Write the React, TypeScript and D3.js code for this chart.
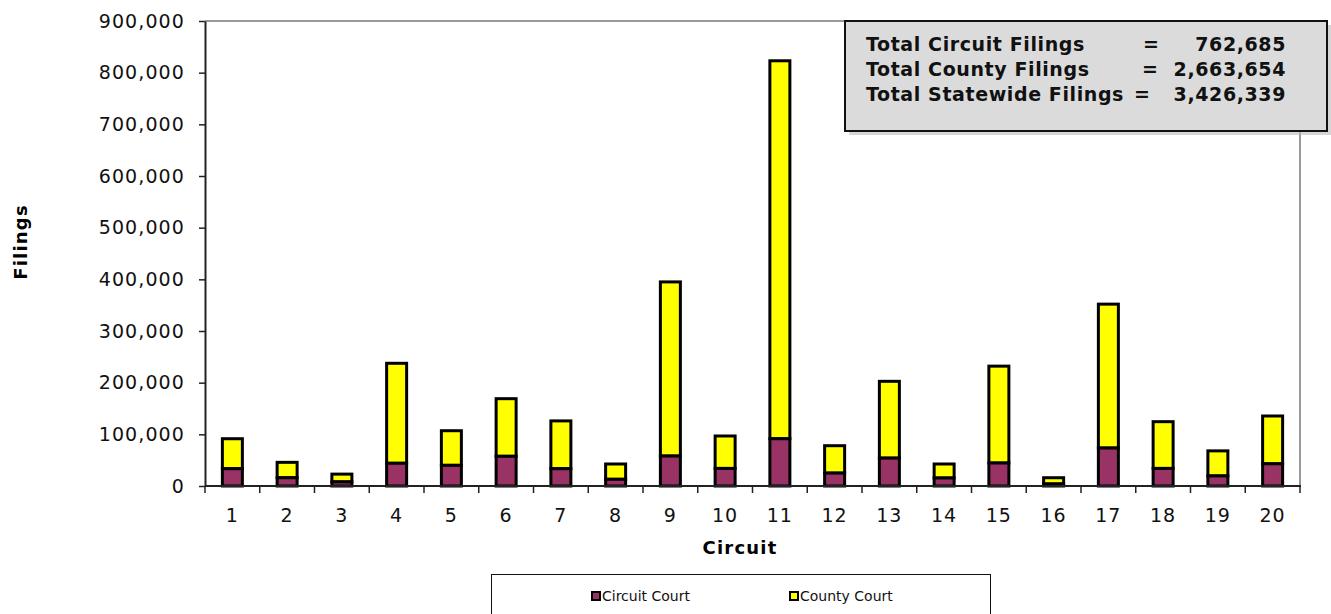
import { useEffect, useRef } from "react";
import * as d3 from "d3";

const CIRCUITS = ["1", "2", "3", "4", "5", "6", "7", "8", "9", "10", "11", "12", "13", "14", "15", "16", "17", "18", "19", "20"];

const CIRCUIT_COURT = [33500, 16000, 8000, 44000, 40000, 57500, 33500, 13000, 58000, 34000, 91500, 25000, 54000, 15500, 44500, 4000, 73500, 34000, 19500, 43000];

const COUNTY_COURT = [58000, 29800, 15000, 193500, 67000, 111500, 92500, 29600, 337000, 62800, 731500, 53000, 148600, 27100, 187500, 12000, 278500, 90500, 48500, 92500];

const Y_TICKS = [0, 100000, 200000, 300000, 400000, 500000, 600000, 700000, 800000, 900000];

const TOTAL_LINES = [
  { label: "Total Circuit Filings", eqX: 1143, value: "762,685" },
  { label: "Total County Filings", eqX: 1142, value: "2,663,654" },
  { label: "Total Statewide Filings", eqX: 1134, value: "3,426,339" },
];

const SERIES = [
  { name: "Circuit Court", color: "#993366" },
  { name: "County Court", color: "#FFFF00" },
];

const FONT = "'DejaVu Sans', Verdana, sans-serif";

export default function App() {
  const svgRef = useRef<SVGSVGElement | null>(null);

  useEffect(() => {
    if (!svgRef.current) return;
    const W = 1331, H = 614;
    const left = 205, right = 1300, top = 21, bottom = 486;

    const svg = d3.select(svgRef.current);
    svg.selectAll("*").remove();
    svg.attr("width", W).attr("height", H).attr("viewBox", `0 0 ${W} ${H}`);

    const x = d3.scaleBand().domain(CIRCUITS).range([left, right]).padding(0);
    const y = d3.scaleLinear().domain([0, 900000]).range([bottom, top]);
    const barW = 20;

    // plot frame: gray top/right
    svg.append("path")
      .attr("d", `M${left},${top}H${right}V${bottom}`)
      .attr("fill", "none").attr("stroke", "#999").attr("stroke-width", 2);

    // stacked bars
    const g = svg.append("g");
    CIRCUITS.forEach((c, i) => {
      const cx = (x(c) ?? 0) + x.bandwidth() / 2;
      const a = CIRCUIT_COURT[i];
      const b = COUNTY_COURT[i];
      g.append("rect")
        .attr("x", cx - barW / 2).attr("width", barW)
        .attr("y", y(a + b)).attr("height", y(a) - y(a + b))
        .attr("fill", SERIES[1].color).attr("stroke", "#000").attr("stroke-width", 3);
      g.append("rect")
        .attr("x", cx - barW / 2).attr("width", barW)
        .attr("y", y(a)).attr("height", y(0) - y(a))
        .attr("fill", SERIES[0].color).attr("stroke", "#000").attr("stroke-width", 3);
    });

    // y axis
    const yAxis = svg.append("g").attr("transform", `translate(${left},0)`)
      .call(d3.axisLeft(y).tickValues(Y_TICKS).tickSize(6).tickSizeOuter(0).tickPadding(14)
        .tickFormat((d) => d3.format(",")(d as number)));
    yAxis.select(".domain").attr("stroke", "#222").attr("stroke-width", 2);
    yAxis.selectAll(".tick line").attr("stroke", "#222").attr("stroke-width", 1.5);
    yAxis.selectAll("text")
      .attr("font-family", FONT).attr("font-size", 19).attr("fill", "#111")
      .style("letter-spacing", "1.1px");

    // x axis
    const xAxis = svg.append("g").attr("transform", `translate(0,${bottom})`);
    xAxis.append("line").attr("x1", left).attr("x2", right + 1)
      .attr("stroke", "#222").attr("stroke-width", 2);
    const bounds = [...CIRCUITS.map((c) => x(c) ?? 0), right];
    bounds.forEach((bx) => {
      xAxis.append("line").attr("x1", bx).attr("x2", bx).attr("y1", 0).attr("y2", 7)
        .attr("stroke", "#222").attr("stroke-width", 1.5);
    });
    CIRCUITS.forEach((c) => {
      xAxis.append("text")
        .attr("x", (x(c) ?? 0) + x.bandwidth() / 2).attr("y", 36)
        .attr("text-anchor", "middle")
        .attr("font-family", FONT).attr("font-size", 19).attr("fill", "#111")
        .style("letter-spacing", "1px")
        .text(c);
    });

    // axis titles
    svg.append("text").attr("x", 740).attr("y", 554).attr("text-anchor", "middle")
      .attr("font-family", FONT).attr("font-size", 18).attr("font-weight", "bold")
      .style("letter-spacing", "1.2px").text("Circuit");
    svg.append("text").attr("transform", "translate(27,242) rotate(-90)")
      .attr("text-anchor", "middle")
      .attr("font-family", FONT).attr("font-size", 18).attr("font-weight", "bold")
      .style("letter-spacing", "1.2px").text("Filings");

    // totals box
    const bx0 = 845, by0 = 21, bw = 482, bh = 110;
    svg.append("rect").attr("x", bx0 + 4).attr("y", by0 + 4).attr("width", bw).attr("height", bh)
      .attr("fill", "#bbb").attr("opacity", 0.6);
    svg.append("rect").attr("x", bx0).attr("y", by0).attr("width", bw).attr("height", bh)
      .attr("fill", "#DBDBDB").attr("stroke", "#111").attr("stroke-width", 2);
    TOTAL_LINES.forEach((ln, i) => {
      const ty = 51 + i * 25;
      const t = svg.append("g").attr("font-family", FONT).attr("font-size", 19)
        .attr("font-weight", "bold").attr("fill", "#111").style("letter-spacing", "0.6px");
      t.append("text").attr("x", 866).attr("y", ty).text(ln.label);
      t.append("text").attr("x", ln.eqX).attr("y", ty).text("=");
      t.append("text").attr("x", 1286).attr("y", ty).attr("text-anchor", "end").text(ln.value);
    });

    // legend
    svg.append("rect").attr("x", 491.5).attr("y", 574.5).attr("width", 499).attr("height", 60)
      .attr("fill", "#fff").attr("stroke", "#111").attr("stroke-width", 1);
    const legX = [591, 789];
    SERIES.forEach((s, i) => {
      svg.append("rect").attr("x", legX[i] + 1).attr("y", 592).attr("width", 8).attr("height", 8)
        .attr("fill", s.color).attr("stroke", "#000").attr("stroke-width", 2);
      svg.append("text").attr("x", legX[i] + 11).attr("y", 601)
        .attr("font-family", FONT).attr("font-size", 14).attr("fill", "#111")
        .text(s.name);
    });
  }, []);

  return <svg ref={svgRef} style={{ position: "absolute", left: 0, top: 0, display: "block", background: "#fff" }} />;
}
